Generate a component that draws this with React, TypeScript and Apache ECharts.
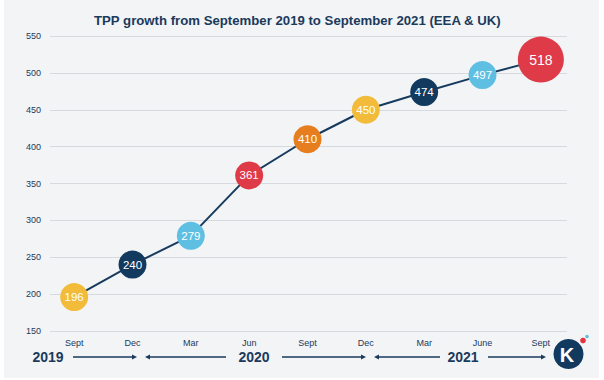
import React, { useEffect, useRef } from "react";
import * as echarts from "echarts";

const categories = ["Sept", "Dec", "Mar", "Jun", "Sept", "Dec", "Mar", "June", "Sept"];
const tppValues = [196, 240, 279, 361, 410, 450, 474, 497, 518];
const pointColors = ["#F2BB3A", "#123A5E", "#5EBFE3", "#DE3A48", "#E67E1F", "#F2BB3A", "#123A5E", "#5EBFE3", "#DE3A48"];
const yTicks = { min: 150, max: 550, interval: 50 };
const years = ["2019", "2020", "2021"];
const titleText = "TPP growth from September 2019 to September 2021 (EEA & UK)";

const NAVY = "#1B3A5C";
const FONT = "'Liberation Sans', Arial, sans-serif";

export default function App() {
  const ref = useRef<HTMLDivElement>(null);
  useEffect(() => {
    if (!ref.current) return;
    const chart = echarts.init(ref.current, undefined, { renderer: "svg" });
    const last = tppValues.length - 1;
    const data = tppValues.map((v, i) => ({
      value: v,
      symbolSize: i === last ? 46 : 28,
      itemStyle: { color: pointColors[i] },
      label: { fontSize: i === last ? 14 : 11.5 },
    }));

    const arrowY = 357;
    const arrow = (x1: number, x2: number) => {
      const dir = x2 > x1 ? 1 : -1;
      return [
        { type: "line", shape: { x1, y1: arrowY, x2: x2 - dir * 3, y2: arrowY }, style: { stroke: NAVY, lineWidth: 1.5 } },
        {
          type: "polygon",
          shape: { points: [[x2, arrowY], [x2 - dir * 5, arrowY - 2.5], [x2 - dir * 5, arrowY + 2.5]] },
          style: { fill: NAVY },
        },
      ];
    };

    chart.setOption({
      animation: false,
      backgroundColor: "#ffffff",
      textStyle: { fontFamily: FONT },
      title: {
        text: titleText,
        left: 89,
        top: 9,
        textStyle: { fontSize: 13.2, fontWeight: "bold", color: NAVY, fontFamily: FONT },
      },
      grid: [
        { left: 50, right: 37, top: 36, bottom: 49 },
        { left: 45, right: 34, top: 36, bottom: 49 },
      ],
      xAxis: [
        { type: "category", gridIndex: 0, data: categories, show: false },
        {
          type: "category",
          gridIndex: 1,
          data: categories,
          boundaryGap: true,
          axisLine: { show: false },
          axisTick: { show: false },
          axisLabel: { color: NAVY, fontSize: 9, margin: 7, fontFamily: FONT },
        },
      ],
      yAxis: [
        {
          type: "value",
          gridIndex: 0,
          min: yTicks.min,
          max: yTicks.max,
          interval: yTicks.interval,
          axisLine: { show: false },
          axisTick: { show: false },
          axisLabel: { color: NAVY, fontSize: 9, margin: 9, fontFamily: FONT },
          splitLine: { lineStyle: { color: "#D6D9DD", width: 1 } },
        },
        {
          type: "value",
          gridIndex: 1,
          min: yTicks.min,
          max: yTicks.max,
          interval: yTicks.interval,
          show: false,
          splitLine: { show: false },
        },
      ],
      series: [
        {
          type: "line",
          xAxisIndex: 1,
          yAxisIndex: 1,
          data,
          symbol: "circle",
          lineStyle: { color: "#173B5E", width: 2 },
          label: { show: true, position: "inside", color: "#ffffff", fontFamily: FONT },
          z: 3,
        },
      ],
      graphic: [
        { type: "rect", z: -100, shape: { x: 4, y: 0, width: 595, height: 378 }, style: { fill: "#F2F4F6" } },
        { type: "text", x: 48, y: arrowY, style: { text: years[0], fill: NAVY, font: `bold 14px ${FONT}`, align: "center", verticalAlign: "middle" } },
        { type: "text", x: 254, y: arrowY, style: { text: years[1], fill: NAVY, font: `bold 14px ${FONT}`, align: "center", verticalAlign: "middle" } },
        { type: "text", x: 463, y: arrowY, style: { text: years[2], fill: NAVY, font: `bold 14px ${FONT}`, align: "center", verticalAlign: "middle" } },
        ...arrow(73, 137),
        ...arrow(226, 145),
        ...arrow(282, 366),
        ...arrow(440, 374),
        ...arrow(488, 546),
        { type: "circle", shape: { cx: 568.5, cy: 354, r: 15 }, style: { fill: "#123A5E" } },
        { type: "text", x: 567, y: 355, style: { text: "K", fill: "#ffffff", font: `bold 20px ${FONT}`, align: "center", verticalAlign: "middle" } },
        { type: "circle", shape: { cx: 583, cy: 340.5, r: 2.8 }, style: { fill: "#E8333F" } },
        { type: "circle", shape: { cx: 587, cy: 336.5, r: 1.8 }, style: { fill: "#5EBFE3" } },
      ],
    });
    return () => chart.dispose();
  }, []);
  return (
    <div
      ref={ref}
      style={{ position: "fixed", left: 0, top: 0, width: 604, height: 380 }}
    />
  );
}
